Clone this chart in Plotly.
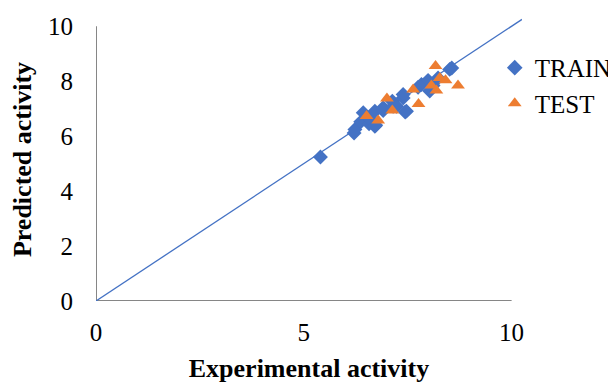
import plotly.graph_objects as go

train_x = [5.40, 6.21, 6.23, 6.37, 6.43, 6.57, 6.59, 6.71, 6.73, 6.71, 6.91, 6.91, 7.13, 7.15, 7.23, 7.39, 7.39, 7.44, 7.47, 7.75, 7.83, 7.99, 8.03, 8.11, 8.23, 8.51, 8.56]
train_y = [5.24, 6.11, 6.24, 6.52, 6.85, 6.45, 6.62, 6.91, 6.40, 6.36, 6.93, 7.03, 7.27, 7.09, 7.09, 7.39, 7.52, 6.88, 6.91, 7.78, 7.88, 8.03, 7.64, 7.84, 8.12, 8.43, 8.48]

test_x = [8.17, 6.51, 6.79, 7.00, 7.13, 7.63, 7.76, 8.07, 8.19, 8.27, 8.41, 8.71]
test_y = [8.55, 6.73, 6.57, 7.37, 6.93, 7.70, 7.17, 7.84, 7.66, 8.12, 8.03, 7.84]

line_x = [0, 10.25]
line_y = [0, 10.25]

x_ticks = [0, 5, 10]
y_ticks = [0, 2, 4, 6, 8, 10]

FONT = "Liberation Serif"
fig = go.Figure()
fig.add_trace(go.Scatter(x=line_x, y=line_y, mode="lines",
                         line=dict(color="#4472C4", width=1.3),
                         showlegend=False, hoverinfo="skip"))
fig.add_trace(go.Scatter(x=train_x, y=train_y, mode="markers", name="TRAIN",
                         marker=dict(symbol="diamond", size=11.5, color="#4472C4")))
fig.add_trace(go.Scatter(x=test_x, y=test_y, mode="markers", name="TEST",
                         marker=dict(symbol="triangle-up", size=12, color="#ED7D31")))

# axis lines only from 0 to 10
fig.add_shape(type="line", x0=0, x1=10, y0=0, y1=0, xref="x", yref="y",
              line=dict(color="#868686", width=2), layer="below")
fig.add_shape(type="line", x0=0, x1=0, y0=0, y1=10, xref="x", yref="y",
              line=dict(color="#868686", width=2), layer="below")

# page body has an 8px margin, so the figure is sized to fill the rest
fig.update_layout(
    width=608, height=375,
    margin=dict(l=88, r=93.6, t=9.5, b=82.3, autoexpand=False),
    paper_bgcolor="white", plot_bgcolor="white",
    font=dict(family=FONT, size=25, color="black"),
    legend=dict(x=0.936, y=0.905, xanchor="left", yanchor="top",
                font=dict(family=FONT, size=25), itemsizing="constant",
                tracegroupgap=0, bgcolor="rgba(0,0,0,0)"),
    xaxis=dict(range=[0, 10.25], tickvals=x_ticks, showgrid=False, zeroline=False,
               showline=False, ticks="", ticklabelstandoff=14, automargin=False,
               title=dict(text="<b>Experimental activity</b>", font=dict(size=26), standoff=13)),
    yaxis=dict(range=[0, 10.3], tickvals=y_ticks, showgrid=False, zeroline=False,
               showline=False, ticks="", ticklabelstandoff=22, automargin=False,
               title=dict(text="<b>Predicted activity</b>", font=dict(size=26), standoff=8)),
)
fig.write_html("out.html")
